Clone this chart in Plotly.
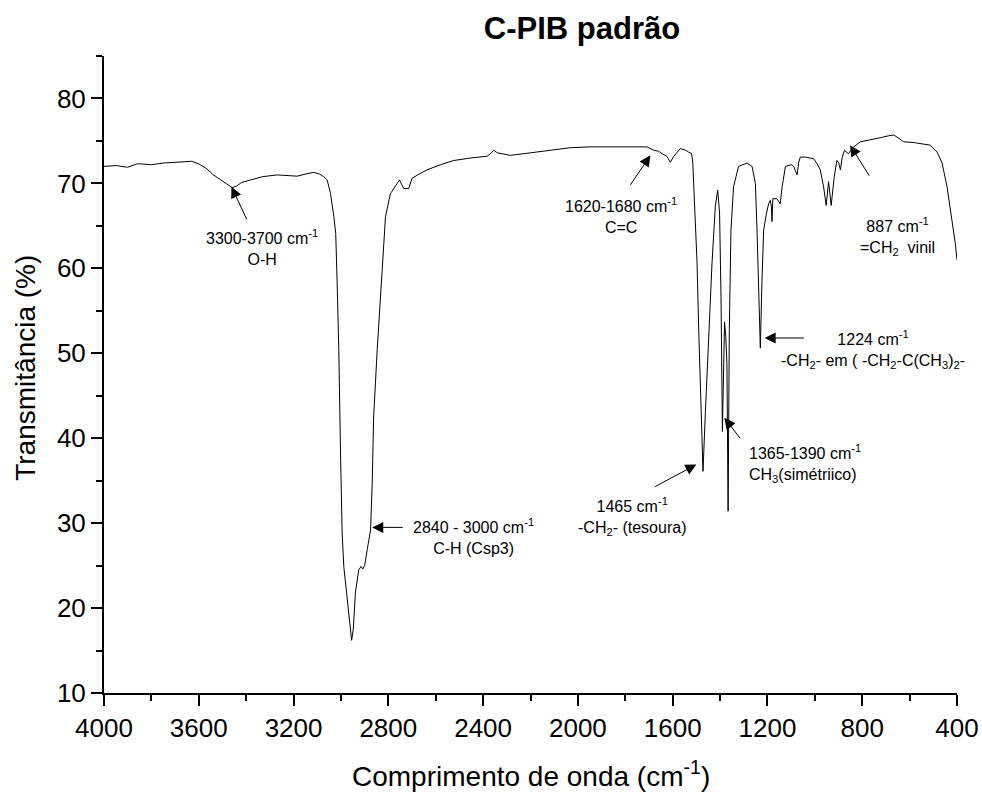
import plotly.graph_objects as go

wavenumber = [4000, 3950, 3900, 3860, 3846, 3800, 3750, 3700, 3664, 3630, 3600, 3570, 3538, 3500,
              3470, 3459, 3440, 3420, 3382, 3330, 3269, 3220, 3185, 3150, 3115, 3090, 3073, 3058,
              3044, 3030, 3022, 3016, 3009, 3002, 2995, 2988, 2974, 2962, 2955, 2948, 2939, 2925,
              2915, 2908, 2900, 2889, 2875, 2868, 2862, 2847, 2826, 2812, 2791, 2770, 2760, 2753,
              2745, 2735, 2714, 2705, 2700, 2670, 2636, 2580, 2524, 2450, 2383, 2365, 2355, 2340,
              2310, 2285, 2200, 2100, 2032, 1950, 1850, 1760, 1708, 1680, 1660, 1645, 1625, 1610,
              1595, 1568, 1545, 1533, 1520, 1515, 1508, 1497, 1490, 1483, 1472, 1462, 1448, 1434,
              1420, 1410, 1402, 1396, 1390, 1385, 1381, 1376, 1371, 1366, 1361, 1354, 1343, 1322,
              1300, 1286, 1265, 1251, 1244, 1236, 1230, 1223, 1216, 1204, 1195, 1188, 1183, 1181,
              1177, 1160, 1150, 1146, 1138, 1124, 1100, 1089, 1082, 1075, 1068, 1061, 1040, 1005,
              990, 977, 963, 952, 942, 931, 918, 907, 899, 892, 885, 875, 858, 840, 808, 766, 720,
              690, 667, 645, 625, 580, 540, 513, 484, 463, 442, 421, 407, 400]

transmittance = [72.0, 72.1, 71.9, 72.3, 72.3, 72.2, 72.4, 72.5, 72.5, 72.6, 72.3, 71.8, 71.0, 70.3,
                 69.7, 69.5, 69.7, 70.1, 70.4, 70.8, 71.0, 70.9, 70.85, 71.1, 71.3, 71.1, 70.8, 70.4,
                 68.8, 66.1, 64.1, 58.3, 50.4, 38.6, 28.9, 24.9, 21.0, 17.5, 16.2, 17.5, 21.8, 24.5,
                 24.9, 24.6, 25.0, 26.9, 29.2, 34.7, 42.5, 50.4, 60.2, 66.1, 68.8, 69.6, 70.1, 70.4,
                 70.0, 69.4, 69.4, 70.1, 70.6, 71.1, 71.6, 72.2, 72.7, 73.0, 73.2, 73.6, 73.9, 73.6,
                 73.4, 73.3, 73.6, 74.0, 74.2, 74.3, 74.3, 74.3, 74.3, 73.9, 73.8, 73.5, 73.2, 72.5,
                 73.2, 74.1, 73.9, 73.7, 73.5, 72.4, 68.4, 60.6, 52.7, 44.9, 36.1, 43.0, 52.7, 60.6,
                 67.3, 69.2, 66.5, 56.7, 40.8, 48.0, 53.7, 52.0, 48.8, 31.4, 52.7, 64.5, 69.6, 72.0,
                 72.3, 72.4, 72.0, 70.0, 64.5, 56.7, 50.6, 58.6, 64.5, 66.5, 67.6, 68.0, 67.2, 65.5,
                 68.2, 68.2, 67.8, 67.6, 69.6, 72.0, 72.2, 72.0, 71.5, 71.0, 72.5, 73.1, 73.1, 72.9,
                 72.3, 71.6, 69.6, 67.4, 70.2, 67.4, 70.8, 72.7, 72.4, 71.6, 73.0, 73.9, 73.5, 74.2,
                 74.9, 75.1, 75.4, 75.6, 75.7, 75.3, 74.9, 74.8, 74.6, 74.5, 73.7, 72.4, 69.6, 65.7,
                 62.9, 61.0]

# annotation arrows: tip (wavenumber, transmittance) and tail offset in pixels
arrow_x = [3462, 2868, 1694, 851, 1212, 1382, 1500]
arrow_y = [69.6, 29.5, 73.3, 74.5, 51.8, 42.4, 36.9]
arrow_ax = [16, 32, -21, 20, 41, 17, -43]
arrow_ay = [34, 0, 31, 32, 0, 22, 23]

label_text = [
    "3300-3700 cm<sup>-1</sup><br>O-H",
    "2840 - 3000 cm<sup>-1</sup><br>C-H (Csp3)",
    "1620-1680 cm<sup>-1</sup><br>C=C",
    "887 cm<sup>-1</sup><br>=CH<sub>2</sub>  vinil",
    "1224 cm<sup>-1</sup><br>-CH<sub>2</sub>- em ( -CH<sub>2</sub>-C(CH<sub>3</sub>)<sub>2</sub>-",
    "1365-1390 cm<sup>-1</sup><br>CH<sub>3</sub>(simétriico)",
    "1465 cm<sup>-1</sup><br>-CH<sub>2</sub>- (tesoura)",
]
label_x = [3335, 2441, 1820, 651, 753, 1286, 1770]
label_y = [62.4, 28.4, 66.2, 63.8, 50.4, 37.0, 30.8]
label_anchor = ["center", "center", "center", "center", "center", "left", "center"]
label_align = ["center", "center", "center", "center", "center", "left", "center"]

FONT = '"Liberation Sans", Arial, sans-serif'

W, H = 982, 792

fig = go.Figure()
fig.add_trace(go.Scatter(x=wavenumber, y=transmittance, mode="lines",
                         line=dict(color="black", width=1), showlegend=False,
                         hoverinfo="x+y"))

annotations = []
for x, y, ax, ay in zip(arrow_x, arrow_y, arrow_ax, arrow_ay):
    annotations.append(dict(x=x, y=y, xref="x", yref="y", ax=ax, ay=ay, text="",
                            showarrow=True, arrowhead=2, arrowsize=2.2, arrowwidth=1,
                            arrowcolor="black"))
for t, x, y, xa, al in zip(label_text, label_x, label_y, label_anchor, label_align):
    annotations.append(dict(x=x, y=y, xref="x", yref="y", text=t, showarrow=False,
                            xanchor=xa, yanchor="middle", align=al,
                            font=dict(family=FONT, size=16, color="black")))

# axis titles placed as paper-referenced annotations
annotations.append(dict(x=0.5, y=-0.127, xref="paper", yref="paper", showarrow=False,
                        text="Comprimento de onda (cm<sup>-1</sup>)",
                        xanchor="center", yanchor="middle",
                        font=dict(family=FONT, size=28, color="black")))
annotations.append(dict(x=-0.093, y=0.51, xref="paper", yref="paper", showarrow=False,
                        text="Transmitância (%)", textangle=-90,
                        xanchor="center", yanchor="middle",
                        font=dict(family=FONT, size=28, color="black")))

fig.update_layout(
    width=W, height=H,
    margin=dict(l=103.5, r=25.3, t=56, b=98.7, autoexpand=False),
    paper_bgcolor="white", plot_bgcolor="white",
    font=dict(family=FONT, color="black"),
    title=dict(text="<b>C-PIB padrão</b>", x=582/W, xanchor="center",
               y=1 - 28/H, yanchor="middle",
               font=dict(family=FONT, size=31, color="black")),
    annotations=annotations,
)
fig.update_xaxes(range=[4000, 400], tick0=400, dtick=400, showgrid=False, zeroline=False,
                 automargin=False,
                 showline=True, linecolor="black", linewidth=2, ticks="outside",
                 ticklen=11, tickwidth=2, tickcolor="black",
                 tickfont=dict(family=FONT, size=26, color="black"),
                 minor=dict(ticks="outside", ticklen=6, tickwidth=2, tickcolor="black", dtick=200))
fig.update_yaxes(range=[10, 85], tick0=10, dtick=10, showgrid=False, zeroline=False,
                 automargin=False,
                 showline=True, linecolor="black", linewidth=2, ticks="outside",
                 ticklen=11, tickwidth=2, tickcolor="black",
                 tickfont=dict(family=FONT, size=26, color="black"),
                 minor=dict(ticks="outside", ticklen=6, tickwidth=2, tickcolor="black", dtick=5))

# remove the default 8px page margin so the figure fills the window exactly
fig.write_html("out.html", config={"displayModeBar": False},
               post_script="document.body.style.margin='0px';")
